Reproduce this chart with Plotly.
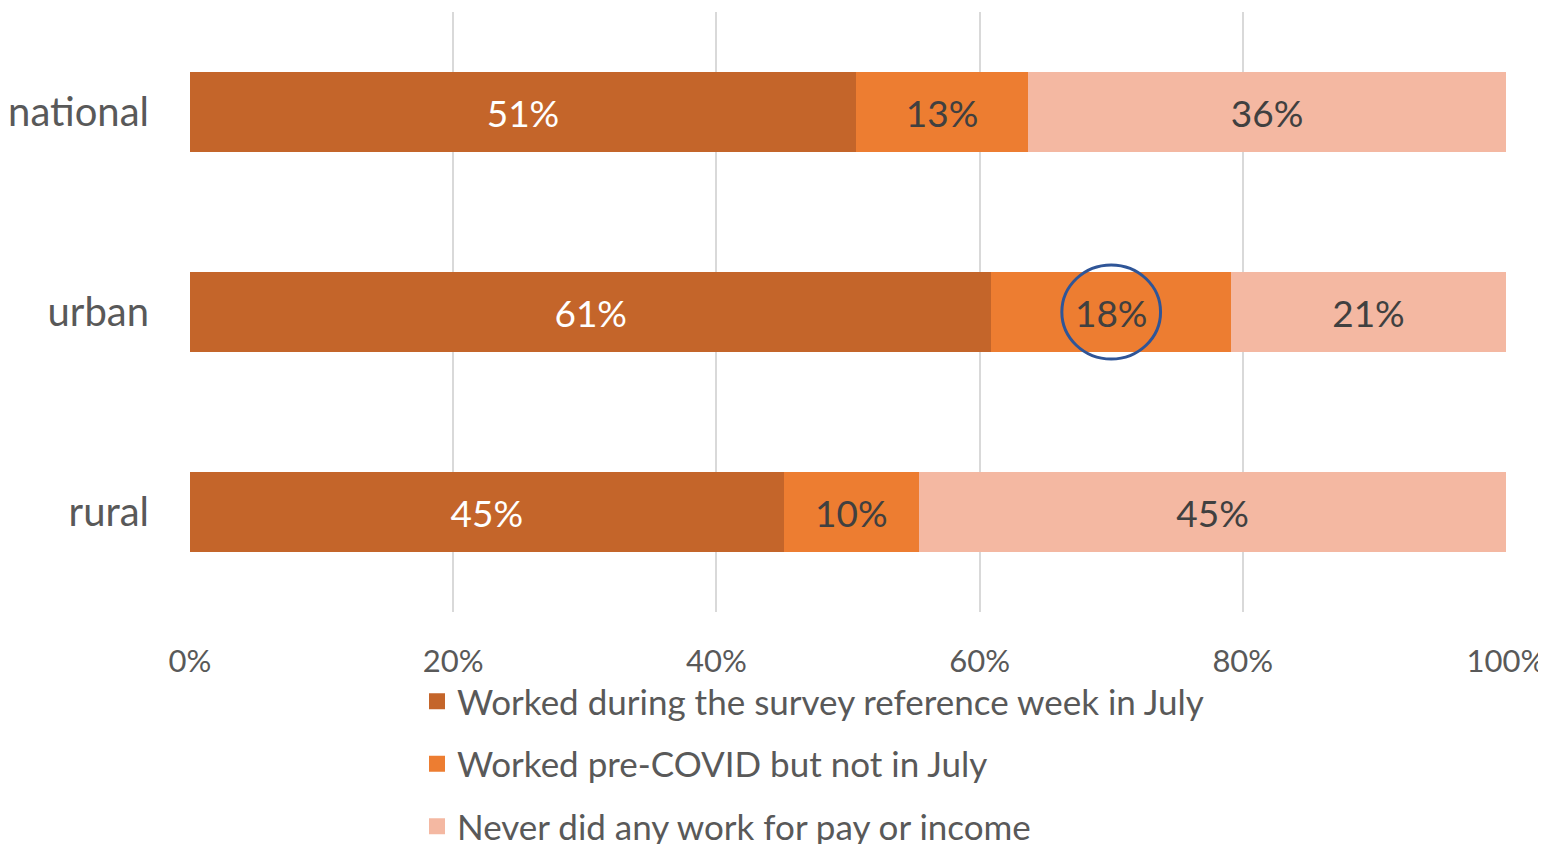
import plotly.graph_objects as go

categories = ["national", "urban", "rural"]
series_names = [
    "Worked during the survey reference week in July",
    "Worked pre-COVID but not in July",
    "Never did any work for pay or income",
]
worked_july = [50.6, 60.9, 45.1]
worked_pre_covid = [13.1, 18.2, 10.3]
never_worked = [36.3, 20.9, 44.6]
series_values = [worked_july, worked_pre_covid, never_worked]
colors = ["#C4652A", "#ED7D31", "#F4B8A2"]
label_colors = ["#FFFFFF", "#404040", "#404040"]
tick_vals = [0, 20, 40, 60, 80, 100]
tick_text = ["0%", "20%", "40%", "60%", "80%", "100%"]

FONT = "Lato"

fig = go.Figure()
for i, (name, vals) in enumerate(zip(series_names, series_values)):
    fig.add_trace(go.Bar(
        y=categories, x=vals, name=name, orientation="h",
        marker=dict(color=colors[i], line=dict(width=0)),
        width=0.4,
        text=[f"{round(v)}%" for v in vals],
        textposition="inside", insidetextanchor="middle",
        textfont=dict(family=FONT, size=37, color=label_colors[i]),
        legendgroup=f"g{i}", showlegend=False,
        hoverinfo="x+name",
    ))
    # legend entry with a larger square swatch
    fig.add_trace(go.Scatter(
        x=[None], y=[None], mode="markers", name=name,
        marker=dict(symbol="square", size=20, color=colors[i]),
        legendgroup=f"g{i}", showlegend=True,
    ))

# highlight circle around urban 18%
cx = worked_july[1] + worked_pre_covid[1] / 2
fig.add_shape(type="circle", xref="x", yref="y",
              x0=cx - 3.75, x1=cx + 3.75, y0=1 - 0.235, y1=1 + 0.235,
              line=dict(color="#2F5597", width=3))

fig.update_layout(
    width=1546, height=844,
    barmode="stack",
    bargap=0.6,
    plot_bgcolor="white", paper_bgcolor="white",
    margin=dict(l=182, r=48, t=4, b=240, autoexpand=False),
    font=dict(family=FONT, color="#595959"),
    xaxis=dict(range=[0, 100], tickvals=tick_vals, ticktext=tick_text,
               showgrid=True, gridcolor="#D9D9D9", gridwidth=2,
               zeroline=False, showline=False, automargin=False,
               ticklabeloverflow="allow",
               tickfont=dict(size=31, color="#595959"),
               ticklabelstandoff=28),
    yaxis=dict(categoryorder="array", categoryarray=categories[::-1],
               range=[-0.5, 2.5], showgrid=False, zeroline=False,
               automargin=False,
               tickfont=dict(size=40, color="#595959"),
               ticklabelstandoff=40),
    legend=dict(orientation="v", x=0.1725, xanchor="left", y=-0.10, yanchor="top",
                font=dict(size=35, color="#595959"),
                tracegroupgap=14, traceorder="grouped",
                bgcolor="rgba(0,0,0,0)"),
    showlegend=True,
)

fig.write_html("out.html")
